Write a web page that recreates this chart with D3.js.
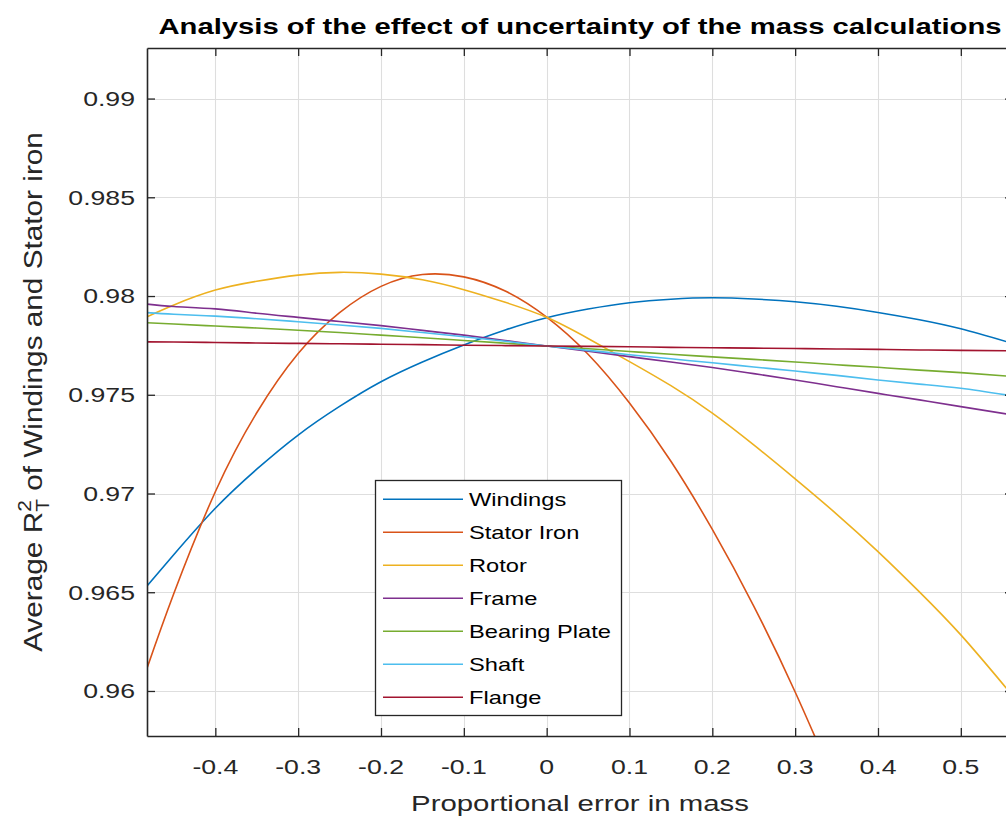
<!DOCTYPE html>
<html><head><meta charset="utf-8">
<script src="https://cdn.jsdelivr.net/npm/d3@7"></script>
<style>body{margin:0;background:#fff;} svg{display:block;}</style>
</head><body>
<svg id="chart" width="1006" height="819"></svg>
<script>
// ---------- data ----------
const xValues = [-0.4825, -0.45, -0.4, -0.35, -0.3, -0.25, -0.2, -0.15, -0.1, -0.05, 0, 0.05, 0.1, 0.15, 0.2, 0.25, 0.3, 0.35, 0.4, 0.45, 0.5, 0.555];
const windings = [0.96532, 0.96691, 0.96925, 0.97123, 0.97296, 0.97441, 0.97566, 0.97666, 0.97752, 0.97828, 0.97890, 0.97934, 0.97966, 0.97984, 0.97991, 0.97985, 0.97971, 0.97948, 0.97917, 0.97880, 0.97834, 0.97769];
const statorIron = [0.96115, 0.96495, 0.97009, 0.97409, 0.97709, 0.97916, 0.98049, 0.98109, 0.98097, 0.98025, 0.97893, 0.97705, 0.97458, 0.97163, 0.96818, 0.96430, 0.95995, 0.95515];
const rotor = [0.97895, 0.97955, 0.98030, 0.98075, 0.98106, 0.98120, 0.98111, 0.98082, 0.98032, 0.97968, 0.97892, 0.97785, 0.97668, 0.97546, 0.97407, 0.97246, 0.97074, 0.96896, 0.96706, 0.96502, 0.96284, 0.96014];
const frame = [0.97959, 0.97947, 0.97935, 0.97913, 0.97892, 0.97871, 0.97850, 0.97826, 0.97802, 0.97775, 0.97747, 0.97720, 0.97693, 0.97666, 0.97638, 0.97607, 0.97575, 0.97541, 0.97507, 0.97474, 0.97440, 0.97403];
const bearingPlate = [0.97865, 0.97858, 0.97848, 0.97838, 0.97827, 0.97815, 0.97802, 0.97789, 0.97775, 0.97761, 0.97747, 0.97733, 0.97719, 0.97705, 0.97692, 0.97679, 0.97666, 0.97652, 0.97639, 0.97625, 0.97612, 0.97595];
const shaft = [0.97916, 0.97908, 0.97898, 0.97885, 0.97870, 0.97853, 0.97836, 0.97815, 0.97794, 0.97771, 0.97747, 0.97725, 0.97703, 0.97682, 0.97662, 0.97641, 0.97620, 0.97598, 0.97575, 0.97554, 0.97533, 0.97499];
const flange = [0.97768, 0.97767, 0.97765, 0.97762, 0.97760, 0.97758, 0.97756, 0.97754, 0.97751, 0.97749, 0.97747, 0.97745, 0.97743, 0.97740, 0.97738, 0.97736, 0.97734, 0.97732, 0.97730, 0.97727, 0.97725, 0.97723];

const seriesNames = ["Windings", "Stator Iron", "Rotor", "Frame", "Bearing Plate", "Shaft", "Flange"];
const seriesColors = ["#0072BD", "#D95319", "#EDB120", "#7E2F8E", "#77AC30", "#4DBEEE", "#A2142F"];
const seriesValues = [windings, statorIron, rotor, frame, bearingPlate, shaft, flange];

const xTickValues = [-0.4, -0.3, -0.2, -0.1, 0, 0.1, 0.2, 0.3, 0.4, 0.5];
const xTickLabels = ["-0.4", "-0.3", "-0.2", "-0.1", "0", "0.1", "0.2", "0.3", "0.4", "0.5"];
const yTickValues = [0.96, 0.965, 0.97, 0.975, 0.98, 0.985, 0.99];
const yTickLabels = ["0.96", "0.965", "0.97", "0.975", "0.98", "0.985", "0.99"];

const titleText = "Analysis of the effect of uncertainty of the mass calculations";
const xLabelText = "Proportional error in mass";

// ---------- layout ----------
const L = 147, R = 1013, T = 48, B = 736;
const SX = 1.3;               // the original figure's text is rendered wide
const FONT = "'Liberation Sans', Arial, Helvetica, sans-serif";
const AX = "#262626";

const svg = d3.select("#chart");
const x = d3.scaleLinear().domain([-0.4825, 0.563]).range([L, R]);
const y = d3.scaleLinear().domain([0.95772, 0.99256]).range([B, T]);

function sText(parent, px, py, str, size, anchor) {
  return parent.append("text")
    .attr("transform", `translate(${px},${py}) scale(${SX},1)`)
    .attr("font-family", FONT).attr("font-size", size)
    .attr("text-anchor", anchor).text(str);
}

svg.append("rect").attr("x", L).attr("y", T).attr("width", R - L).attr("height", B - T).attr("fill", "#fff");

// grid
const grid = svg.append("g").attr("stroke", "#dedede").attr("stroke-width", 1.1);
grid.selectAll("line.gx").data(xTickValues).join("line").attr("class", "gx")
  .attr("x1", d => Math.round(x(d)) + 0.5).attr("x2", d => Math.round(x(d)) + 0.5)
  .attr("y1", T).attr("y2", B);
grid.selectAll("line.gy").data(yTickValues).join("line").attr("class", "gy")
  .attr("y1", d => Math.round(y(d)) + 0.5).attr("y2", d => Math.round(y(d)) + 0.5)
  .attr("x1", L).attr("x2", R);

svg.append("clipPath").attr("id", "clip").append("rect")
  .attr("x", L).attr("y", T).attr("width", R - L).attr("height", B - T);

const line = d3.line().x((d, i) => x(xValues[i])).y(d => y(d)).curve(d3.curveNatural);
const lines = svg.append("g").attr("clip-path", "url(#clip)");
seriesValues.forEach((vals, k) => {
  lines.append("path").datum(vals).attr("d", line)
    .attr("fill", "none").attr("stroke", seriesColors[k]).attr("stroke-width", 1.6);
});

// axes (box with inward ticks)
const gxB = svg.append("g").attr("transform", `translate(0,${B})`)
  .call(d3.axisBottom(x).tickValues(xTickValues).tickSize(-8).tickSizeOuter(0).tickFormat(""));
const gxT = svg.append("g").attr("transform", `translate(0,${T})`)
  .call(d3.axisTop(x).tickValues(xTickValues).tickSize(-8).tickSizeOuter(0).tickFormat(""));
const gyL = svg.append("g").attr("transform", `translate(${L},0)`)
  .call(d3.axisLeft(y).tickValues(yTickValues).tickSize(-8).tickSizeOuter(0).tickFormat(""));
const gyR = svg.append("g").attr("transform", `translate(${R},0)`)
  .call(d3.axisRight(y).tickValues(yTickValues).tickSize(-8).tickSizeOuter(0).tickFormat(""));
[gxB, gxT, gyL, gyR].forEach(g => {
  g.select(".domain").attr("stroke", AX).attr("stroke-width", 1.6);
  g.selectAll(".tick line").attr("stroke", AX).attr("stroke-width", 1.3);
});

// tick labels
const tl = svg.append("g").attr("fill", AX);
xTickValues.forEach((v, i) => sText(tl, x(v), 774, xTickLabels[i], 20.5, "middle"));
yTickValues.forEach((v, i) => sText(tl, 135, y(v) + 7.4, yTickLabels[i], 20.5, "end"));

// title
sText(svg, (L + R) / 2, 34, titleText, 22.5, "middle").attr("font-weight", "bold").attr("fill", "#000");

// x label
sText(svg, (L + R) / 2, 811, xLabelText, 22.6, "middle").attr("fill", AX);

// y label (rotated, stretched along its length, with R_T^2)
const yl = svg.append("text")
  .attr("transform", `translate(42,${(T + B) / 2}) rotate(-90) scale(1.19,1)`)
  .attr("font-family", FONT).attr("font-size", 25).attr("fill", AX).attr("text-anchor", "middle");
yl.append("tspan").text("Average R");
yl.append("tspan").attr("font-size", 17.5).attr("dy", -11).text("2");
yl.append("tspan").attr("font-size", 17.5).attr("dx", -9.7).attr("dy", 17.5).text("T");
yl.append("tspan").attr("dy", -6.5).text(" of Windings and Stator iron");

// legend
const lg = svg.append("g");
lg.append("rect").attr("x", 375.5).attr("y", 480.5).attr("width", 246).attr("height", 235)
  .attr("fill", "#fff").attr("stroke", AX).attr("stroke-width", 1.3);
seriesNames.forEach((name, k) => {
  const cy = 499.3 + 33 * k;
  lg.append("line").attr("x1", 383).attr("x2", 463).attr("y1", cy).attr("y2", cy)
    .attr("stroke", seriesColors[k]).attr("stroke-width", 1.6);
  sText(lg, 469, cy + 6.5, name, 18.2, "start").attr("fill", "#000");
});
</script>
</body></html>
